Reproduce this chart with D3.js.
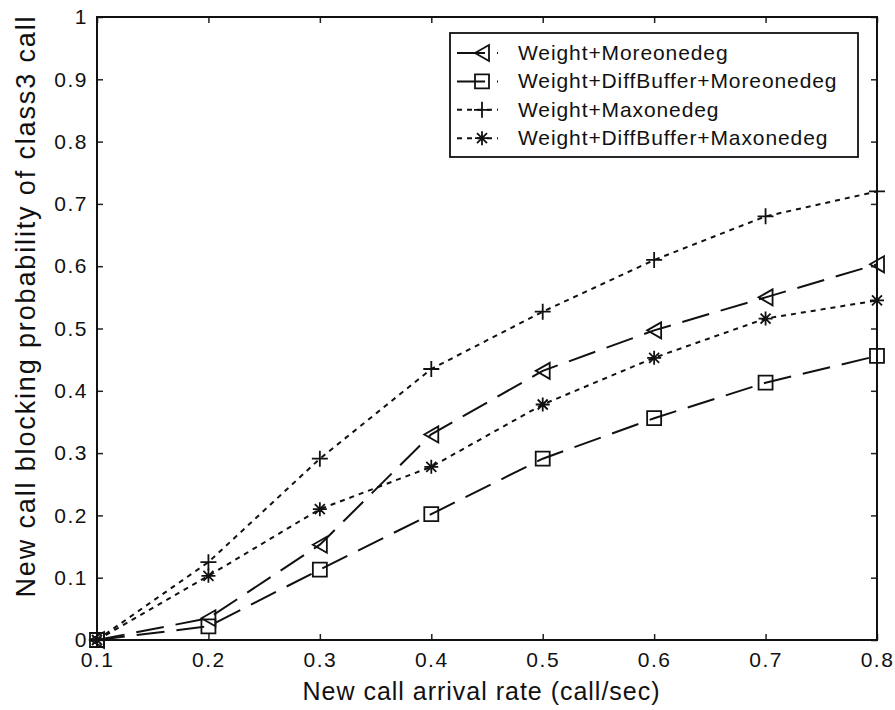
<!DOCTYPE html>
<html>
<head>
<meta charset="utf-8">
<script src="https://cdn.jsdelivr.net/npm/d3@7"></script>
<style>
  body { margin: 0; background: #fff; }
  text { font-family: "Liberation Sans", Arial, sans-serif; fill: #111; }
</style>
</head>
<body>
<div id="chart"></div>
<script>
// values
const rates   = [0.1, 0.2, 0.3, 0.4, 0.5, 0.6, 0.7, 0.8];
const wMore   = [0, 0.035, 0.153, 0.330, 0.432, 0.497, 0.550, 0.603];
const wdMore  = [0, 0.022, 0.113, 0.202, 0.291, 0.356, 0.413, 0.456];
const wMax    = [0, 0.125, 0.291, 0.435, 0.527, 0.610, 0.680, 0.720];
const wdMax   = [0, 0.103, 0.210, 0.278, 0.378, 0.453, 0.516, 0.545];
const seriesNames = ['Weight+Moreonedeg', 'Weight+DiffBuffer+Moreonedeg',
                     'Weight+Maxonedeg', 'Weight+DiffBuffer+Maxonedeg'];
const xTicks = [0.1, 0.2, 0.3, 0.4, 0.5, 0.6, 0.7, 0.8];
const yTicks = [0, 0.1, 0.2, 0.3, 0.4, 0.5, 0.6, 0.7, 0.8, 0.9, 1];

const width  = 895;
const height = 710;
const margin = {top: 17, right: 18, bottom: 72, left: 97};

const series = [
  {name: seriesNames[0], values: wMore,  dash: '28,12', marker: 'tri'},
  {name: seriesNames[1], values: wdMore, dash: '28,12', marker: 'square'},
  {name: seriesNames[2], values: wMax,   dash: '5,5',   marker: 'plus'},
  {name: seriesNames[3], values: wdMax,  dash: '5,5',   marker: 'star'}
];

const svg = d3.select('#chart').append('svg')
  .attr('width', width)
  .attr('height', height);

let xScale = d3.scaleLinear()
  .domain([0.1, 0.8])
  .range([margin.left, width - margin.right]);

let yScale = d3.scaleLinear()
  .domain([0, 1])
  .range([height - margin.bottom + 2, margin.top]);

const x0 = xScale.range()[0], x1 = xScale.range()[1];
const y0 = yScale.range()[0], y1 = yScale.range()[1];

// axes: ticks pointing inward, MATLAB style box
svg.append('g')
  .attr('transform', `translate(0, ${y0})`)
  .call(d3.axisBottom(xScale).tickValues(xTicks).tickSizeInner(-6).tickSizeOuter(0)
    .tickPadding(12).tickFormat(d3.format('.1f')))
  .call(g => g.select('.domain').remove())
  .call(g => g.selectAll('text').style('font-size', '21px').style('letter-spacing', '1.5px'));

svg.append('g')
  .attr('transform', `translate(${x0}, 0)`)
  .call(d3.axisLeft(yScale).tickValues(yTicks).tickSizeInner(-6).tickSizeOuter(0)
    .tickPadding(9).tickFormat(d => d === 0 ? '0' : d === 1 ? '1' : d3.format('.1f')(d)))
  .call(g => g.select('.domain').remove())
  .call(g => g.selectAll('text').style('font-size', '21px').style('letter-spacing', '1.5px'));

svg.append('g')
  .attr('transform', `translate(0, ${y1})`)
  .call(d3.axisTop(xScale).tickValues(xTicks).tickSizeInner(-6).tickSizeOuter(0).tickFormat(''))
  .call(g => g.select('.domain').remove());

svg.append('g')
  .attr('transform', `translate(${x1}, 0)`)
  .call(d3.axisRight(yScale).tickValues(yTicks).tickSizeInner(-6).tickSizeOuter(0).tickFormat(''))
  .call(g => g.select('.domain').remove());

svg.selectAll('.tick line').attr('stroke', '#222').attr('stroke-width', 1.5);

// box
svg.append('rect')
  .attr('x', x0).attr('y', y1)
  .attr('width', x1 - x0).attr('height', y0 - y1)
  .attr('fill', 'none')
  .attr('stroke', '#111')
  .attr('stroke-width', 2);

// marker shapes
function markerPath(type) {
  switch (type) {
    case 'tri':    return 'M-7,0 L7,-8 L7,8 Z';
    case 'square': return 'M-7,-7 H7 V7 H-7 Z';
    case 'plus':   return 'M-8,0 H8 M0,-8 V8';
    case 'star':   return 'M-7,0 H7 M0,-7 V7 M-5,-5 L5,5 M-5,5 L5,-5';
  }
}

const line = d3.line()
  .x((d, i) => xScale(rates[i]))
  .y(d => yScale(d));

series.forEach(s => {
  svg.append('path')
    .datum(s.values)
    .attr('d', line)
    .attr('fill', 'none')
    .attr('stroke', '#111')
    .attr('stroke-width', 2)
    .attr('stroke-dasharray', s.dash);

  svg.selectAll(null)
    .data(s.values)
    .enter()
    .append('path')
      .attr('transform', (d, i) => `translate(${xScale(rates[i])}, ${yScale(d)})`)
      .attr('d', markerPath(s.marker))
      .attr('fill', 'none')
      .attr('stroke', '#111')
      .attr('stroke-width', 1.8);
});

// legend
const legend = svg.append('g');
legend.append('rect')
  .attr('x', 450).attr('y', 33)
  .attr('width', 408).attr('height', 124)
  .attr('fill', '#fff')
  .attr('stroke', '#111')
  .attr('stroke-width', 1.8);

series.forEach((s, i) => {
  const cy = 53 + i * 28.4;
  legend.append('line')
    .attr('x1', 457).attr('x2', 498)
    .attr('y1', cy).attr('y2', cy)
    .attr('stroke', '#111')
    .attr('stroke-width', 2)
    .attr('stroke-dasharray', s.dash);
  legend.append('path')
    .attr('transform', `translate(482, ${cy})`)
    .attr('d', markerPath(s.marker))
    .attr('fill', 'none')
    .attr('stroke', '#111')
    .attr('stroke-width', 1.8);
  legend.append('text')
    .attr('x', 518)
    .attr('y', cy + 7)
    .style('font-size', '21px')
    .style('letter-spacing', '0.9px')
    .text(s.name);
});

// axis titles
svg.append('text')
  .attr('x', 481)
  .attr('y', 700)
  .attr('text-anchor', 'middle')
  .attr('textLength', 357)
  .style('font-size', '25px')
  .text('New call arrival rate (call/sec)');

svg.append('text')
  .attr('transform', 'rotate(-90)')
  .attr('x', -307)
  .attr('y', 35)
  .attr('text-anchor', 'middle')
  .attr('textLength', 581)
  .style('font-size', '27px')
  .text('New call blocking probability of class3 call');
</script>
</body>
</html>
